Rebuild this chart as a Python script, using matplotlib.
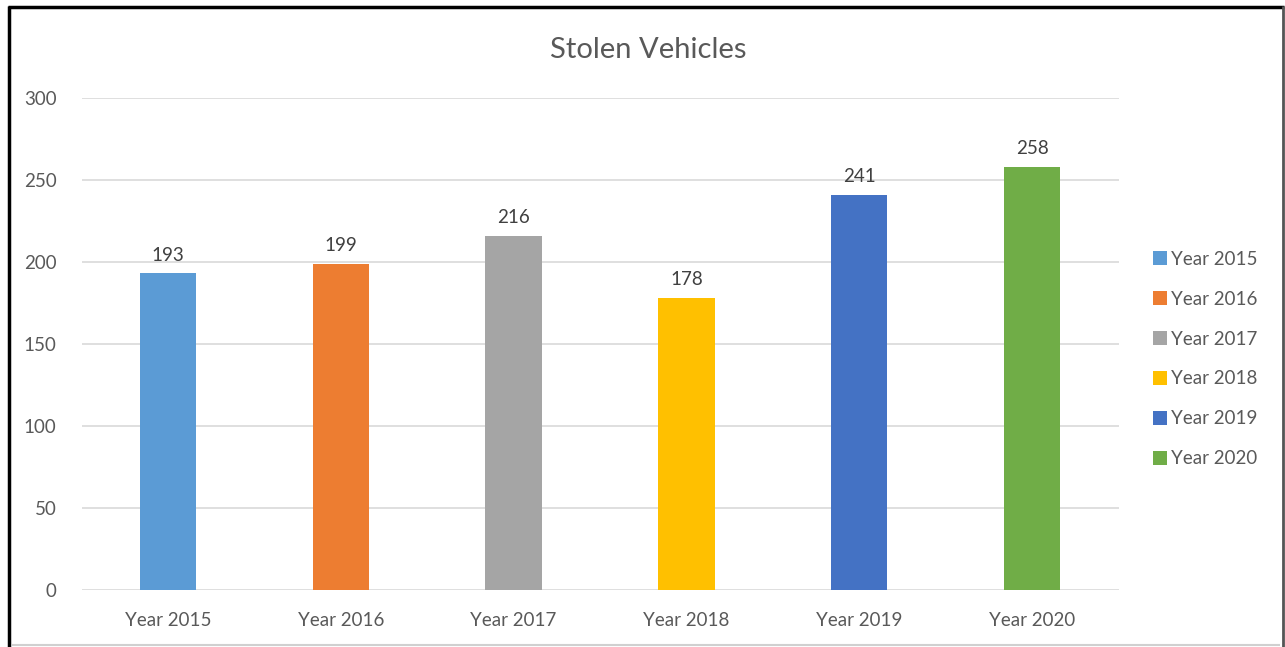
import matplotlib
matplotlib.use("Agg")
import matplotlib.pyplot as plt
from matplotlib.lines import Line2D
from matplotlib.patches import Patch

categories = ["Year 2015", "Year 2016", "Year 2017", "Year 2018", "Year 2019", "Year 2020"]
values = [193, 199, 216, 178, 241, 258]
colors = ["#5B9BD5", "#ED7D31", "#A5A5A5", "#FFC000", "#4472C4", "#70AD47"]
yticks = [0, 50, 100, 150, 200, 250, 300]

plt.rcParams['font.family'] = ['Lato', 'DejaVu Sans']
W, H = 1285, 647
fig = plt.figure(figsize=(W / 100, H / 100), dpi=100)
ax = fig.add_axes([81.5 / W, 1 - 590 / H, (1118.5 - 81.5) / W, (590 - 98) / H])

x = list(range(len(categories)))
ax.bar(x, values, width=0.325, color=colors, zorder=3)
for xi, v in zip(x, values):
    ax.annotate(str(v), (xi, v), xytext=(0, 7), textcoords="offset points",
                ha="center", va="bottom", fontsize=13.5, color="#404040")

ax.set_xlim(-0.5, len(categories) - 0.5)
ax.set_ylim(0, 300)
ax.set_yticks(yticks)
ax.set_xticks(x)
ax.set_xticklabels(categories)
ax.tick_params(axis="both", length=0, labelsize=13.5, labelcolor="#595959")
ax.tick_params(axis="x", pad=16)
ax.tick_params(axis="y", pad=18)
ax.grid(axis="y", color="#D9D9D9", linewidth=1.2, zorder=0)
for s in ax.spines.values():
    s.set_visible(False)

fig.text(648 / W, 1 - 50 / H, "Stolen Vehicles",
         ha="center", va="center", fontsize=21, color="#595959")

handles = [Patch(facecolor=c, edgecolor="none") for c in colors]
fig.legend(handles, categories, loc="center left", bbox_to_anchor=(1136 / W, 1 - 359 / H),
           frameon=False, fontsize=13.5, labelcolor="#595959", handlelength=0.75,
           handleheight=0.75, handletextpad=0.2, labelspacing=1.22)

# outer frame
def fl(x0, y0, x1, y1, c, lw):
    fig.add_artist(Line2D([x0 / W, x1 / W], [1 - y0 / H, 1 - y1 / H], color=c, lw=lw,
                          transform=fig.transFigure, solid_capstyle="butt"))

fl(9, 6, 9, 647, "black", 2.5)
fl(8, 7, 1284, 7, "black", 2.5)
fl(1282.5, 6, 1282.5, 647, "#555555", 2.0)
fl(12, 644.5, 1280, 644.5, "#D0D0D0", 1.5)

fig.savefig("out.png", dpi=100)
